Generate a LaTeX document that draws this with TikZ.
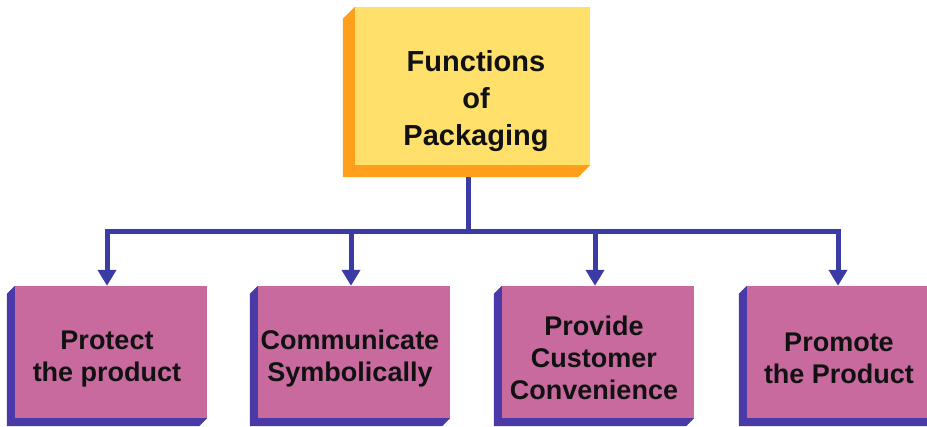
\documentclass[tikz,border=0pt]{standalone}
\usepackage{fontspec}
\setmainfont{Liberation Sans}
\usetikzlibrary{arrows.meta,calc,backgrounds}
\definecolor{facey}{HTML}{FFE06B}
\definecolor{sidey}{HTML}{FF9F1C}
\definecolor{facep}{HTML}{C96A9E}
\definecolor{sidep}{HTML}{4A3AA8}
\definecolor{conncol}{HTML}{3B3BA6}
\definecolor{txt}{HTML}{111111}
\begin{document}
\begin{tikzpicture}[x=1pt,y=-1pt,
  face/.style={draw=none, inner sep=0pt, anchor=center},
  topbox/.style={face, fill=facey, minimum width=235pt, minimum height=158pt},
  botbox/.style={face, fill=facep, minimum width=192pt, minimum height=132pt},
  toptext/.style={font=\fontsize{29}{37}\selectfont\bfseries, align=center, text=txt, inner sep=0pt},
  bottext/.style={font=\fontsize{27}{32}\selectfont\bfseries, align=center, text=txt, inner sep=0pt},
  conn/.style={draw=conncol, line width=5pt},
  arr/.style={conn, -{Triangle[width=18pt,length=16pt]}}]

\clip (0,0) rectangle (927,427);

% boxes (front faces)
\node[topbox] (top) at (472.5,86) {};
\node[botbox] (b1) at (111,352) {};
\node[botbox] (b2) at (354,352) {};
\node[botbox] (b3) at (598,352) {};
\node[botbox] (b4) at (843,352) {};

% extruded sides
\foreach \n/\d/\c in {top/12/sidey, b1/8/sidep, b2/8/sidep, b3/8/sidep, b4/8/sidep}{
  \fill[\c] (\n.north west) -- ++(-\d,\d) -- ($(\n.south west)+(-\d,\d)$)
    -- ($(\n.south east)+(-\d,\d)$) -- (\n.south east) -- (\n.south west) -- cycle;
}

% texts
\node[toptext] (t0) at (476,101) {Functions\\of\\Packaging};
\node[bottext] (t1) at (107,359) {Protect\\the product};
\node[bottext] (t2) at (350,359) {Communicate\\Symbolically};
\node[bottext] (t3) at (594,358) {Provide\\Customer\\Convenience};
\node[bottext] (t4) at (839,358) {Promote\\the Product};

% connectors
\coordinate (bus) at (468,232);
\begin{scope}[on background layer]
  \draw[conn] ($(top.south)+(-4.5,0)$) -- (bus);
  \draw[arr] (bus) -| ($(b1.north)+(-4,0)$);
  \draw[arr] (bus) -| ($(b2.north)+(-3,0)$);
  \draw[arr] (bus) -| ($(b3.north)+(-3,0)$);
  \draw[arr] (bus) -| ($(b4.north)+(-5,0)$);
\end{scope}
\end{tikzpicture}
\end{document}
